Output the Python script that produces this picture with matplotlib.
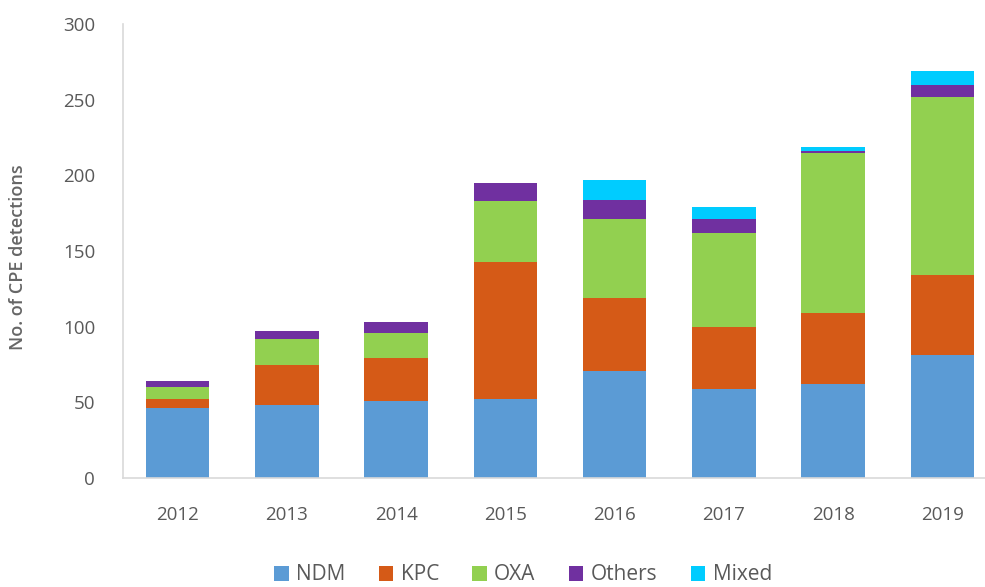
import matplotlib
matplotlib.use("Agg")
import matplotlib.pyplot as plt
import numpy as np

years = ["2012", "2013", "2014", "2015", "2016", "2017", "2018", "2019"]
ndm = [46, 48, 51, 52, 71, 59, 62, 81]
kpc = [6, 27, 28, 91, 48, 41, 47, 53]
oxa = [8, 17, 17, 40, 52, 62, 106, 118]
others = [4, 5, 7, 12, 13, 9, 1, 8]
mixed = [0, 0, 0, 0, 13, 8, 3, 9]

series = [("NDM", ndm, "#5b9bd5"), ("KPC", kpc, "#d55a17"), ("OXA", oxa, "#92d050"),
          ("Others", others, "#7030a0"), ("Mixed", mixed, "#00ccff")]

plt.rcParams['font.family'] = ['Open Sans', 'DejaVu Sans']
fig = plt.figure(figsize=(9.85, 5.87), dpi=100)
ax = fig.add_axes([123/985, 1-478/587, (997-123)/985, (478-24)/587])

x = np.arange(len(years))
bottom = np.zeros(len(years))
for name, vals, col in series:
    ax.bar(x, vals, 0.58, bottom=bottom, color=col, label=name, zorder=2)
    bottom += np.array(vals)

ax.set_xlim(-0.5, 7.5)
ax.set_ylim(0, 300)
ax.set_yticks(range(0, 301, 50))
ax.set_xticks(x)
ax.set_xticklabels(years)
for s in ["top", "right"]:
    ax.spines[s].set_visible(False)
for s in ["left", "bottom"]:
    ax.spines[s].set_color("#d9d9d9")
    ax.spines[s].set_linewidth(1.2)
ax.tick_params(axis="both", length=0, labelcolor="#595959", labelsize=13.5)
ax.tick_params(axis="y", pad=20)
ax.tick_params(axis="x", pad=20)
fig.text(18/985, 1-257/587, "No. of CPE detections", color="#666666", fontsize=13,
         fontweight="semibold", rotation=90, ha="center", va="center")

leg = fig.legend(loc="center", bbox_to_anchor=(523/985, 1-575/587), ncol=5, frameon=False,
                 fontsize=15, handlelength=0.7, handleheight=0.7, handletextpad=0.35,
                 columnspacing=1.6, labelcolor="#595959")

fig.savefig("out.png", dpi=100)
